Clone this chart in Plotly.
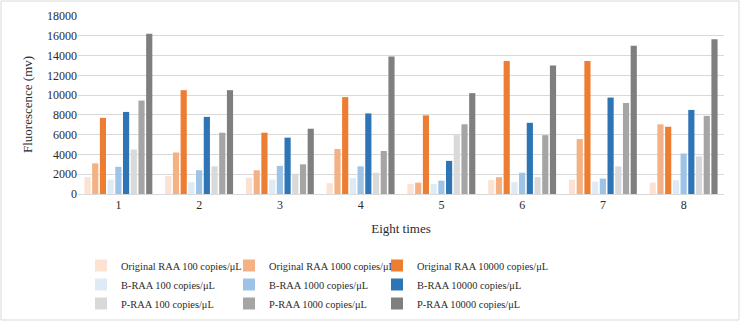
import plotly.graph_objects as go

categories = ["1", "2", "3", "4", "5", "6", "7", "8"]

series_names = [
    "Original RAA 100 copies/μL", "Original RAA 1000 copies/μL", "Original RAA 10000 copies/μL",
    "B-RAA 100 copies/μL", "B-RAA 1000 copies/μL", "B-RAA 10000 copies/μL",
    "P-RAA 100 copies/μL", "P-RAA 1000 copies/μL", "P-RAA 10000 copies/μL",
]

orig_100 = [1700, 1800, 1650, 1100, 1000, 1400, 1450, 1150]
orig_1000 = [3100, 4200, 2400, 4550, 1150, 1700, 5550, 7050]
orig_10000 = [7700, 10500, 6200, 9800, 7950, 13450, 13450, 6800]
b_100 = [1450, 1200, 1450, 1600, 1000, 1200, 1250, 1400]
b_1000 = [2750, 2400, 2850, 2800, 1350, 2150, 1550, 4100]
b_10000 = [8300, 7800, 5700, 8150, 3350, 7200, 9750, 8500]
p_100 = [4500, 2800, 2050, 2150, 5950, 1700, 2800, 3800]
p_1000 = [9450, 6200, 3000, 4350, 7050, 5950, 9200, 7900]
p_10000 = [16200, 10500, 6600, 13900, 10200, 13000, 15000, 15650]

series_values = [orig_100, orig_1000, orig_10000, b_100, b_1000, b_10000, p_100, p_1000, p_10000]
colors = ["#FBE2D2", "#F4B183", "#ED7D31", "#DEEBF7", "#9DC3E6", "#2E75B6", "#D9D9D9", "#A5A5A5", "#7F7F7F"]
legend_column = ["legend", "legend2", "legend3"] * 3

y_ticks = [0, 2000, 4000, 6000, 8000, 10000, 12000, 14000, 16000, 18000]
y_tick_labels = ["0", "2000", "4000", "6000", "8000", "10000", "12000", "14000", "16000", "18000"]

FONT = "Liberation Serif"
TXT = "#2b2b2b"

fig = go.Figure()
for name, vals, col, lg in zip(series_names, series_values, colors, legend_column):
    fig.add_trace(go.Bar(x=categories, y=vals, name=name, legend=lg,
                         marker=dict(color=col, line=dict(width=0))))

W, H = 740, 321
L, R, T, B = 78, 16, 16, 127
pw, ph = W - L - R, H - T - B

legend_top = 1 - 251 / H
leg_common = dict(
    orientation="v", xref="container", yref="container",
    y=legend_top, xanchor="left", yanchor="top",
    font=dict(family=FONT, size=10.4, color=TXT), tracegroupgap=0,
    itemwidth=30, bgcolor="rgba(0,0,0,0)",
)

fig.update_layout(
    width=W, height=H,
    margin=dict(l=L, r=R, t=T, b=B, autoexpand=False),
    paper_bgcolor="white", plot_bgcolor="white",
    barmode="group", bargap=0.14, bargroupgap=0.2,
    font=dict(family=FONT, size=12, color=TXT),
    xaxis=dict(
        showgrid=False, showline=True, linecolor="#D9D9D9", linewidth=1,
        ticks="", tickfont=dict(family=FONT, size=12, color=TXT), automargin=False,
        title=dict(text="Eight times", font=dict(family=FONT, size=13, color=TXT), standoff=12),
    ),
    yaxis=dict(
        range=[0, 18000], tickvals=y_ticks, ticktext=y_tick_labels,
        showgrid=True, gridcolor="#D9D9D9", gridwidth=1, automargin=False,
        zeroline=False, showline=False, ticks="", tickfont=dict(family=FONT, size=12, color=TXT),
    ),
    annotations=[dict(
        text="Fluorescence (mv)", textangle=-90, showarrow=False,
        xref="paper", yref="paper", x=(27 - L) / pw, y=0.5,
        xanchor="center", yanchor="middle",
        font=dict(family=FONT, size=13, color=TXT),
    )],
    legend=dict(x=81 / W, **leg_common),
    legend2=dict(x=229 / W, **leg_common),
    legend3=dict(x=377 / W, **leg_common),
    shapes=[dict(
        type="rect", xref="paper", yref="paper",
        x0=(1 - L) / pw, x1=(W - 1 - L) / pw,
        y0=(T + ph - (H - 1)) / ph, y1=(T + ph - 1) / ph,
        line=dict(color="#D9D9D9", width=1), fillcolor="rgba(0,0,0,0)", layer="below",
    )],
)

fig.write_html(
    "out.html",
    config={"displayModeBar": False},
    post_script="document.body.style.margin='0';document.body.style.overflow='hidden';",
)
